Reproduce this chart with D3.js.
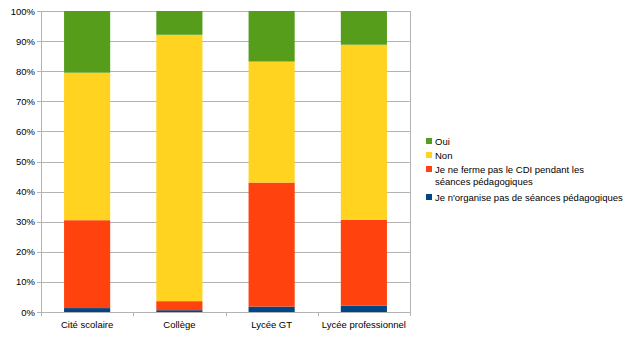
<!DOCTYPE html>
<html>
<head>
<meta charset="utf-8">
<script src="https://cdn.jsdelivr.net/npm/d3@7"></script>
<style>
  body { margin: 0; background: #fff; }
  text { font-family: "Liberation Sans", Arial, sans-serif; }
</style>
</head>
<body>
<svg id="chart" width="630" height="338"></svg>
<script>
// Survey answers by type of school (shares in %)
const categories = ["Cité scolaire", "Collège", "Lycée GT", "Lycée professionnel"];
const seriesNames = [
  "Je n'organise pas de séances pédagogiques",
  "Je ne ferme pas le CDI pendant les séances pédagogiques",
  "Non",
  "Oui"
];
const noSessions = [1.3, 0.6, 1.8, 2.1];
const keepOpen   = [29.2, 3.0, 41.2, 28.5];
const non        = [49.0, 88.5, 40.2, 58.2];
const oui        = [20.5, 7.9, 16.8, 11.2];
const yTicks = [0, 10, 20, 30, 40, 50, 60, 70, 80, 90, 100];
const colors = ["#004586", "#ff420e", "#ffd320", "#579d1c"];

const keys = ["noSessions", "keepOpen", "non", "oui"];
const rows = categories.map((c, i) => ({
  cat: c, noSessions: noSessions[i], keepOpen: keepOpen[i], non: non[i], oui: oui[i]
}));

const svg = d3.select("#chart");
const m = { left: 41, top: 11, right: 410, bottom: 312 };
const fs = 9.5;

const x = d3.scaleBand().domain(categories).range([m.left, m.right]).paddingInner(0.5).paddingOuter(0.25);
const xb = d3.scaleBand().domain(categories).range([m.left, m.right]);
const y = d3.scaleLinear().domain([0, 100]).range([m.bottom, m.top]);

// horizontal gridlines
svg.append("g").selectAll("line").data(yTicks).join("line")
  .attr("x1", m.left - 4).attr("x2", m.right)
  .attr("y1", d => Math.round(y(d)) + 0.5).attr("y2", d => Math.round(y(d)) + 0.5)
  .attr("stroke", "#b3b3b3").attr("stroke-width", 1);

// right border
svg.append("line")
  .attr("x1", m.right + 0.5).attr("x2", m.right + 0.5)
  .attr("y1", m.top).attr("y2", m.bottom + 4)
  .attr("stroke", "#b3b3b3");

// stacked bars
const stack = d3.stack().keys(keys)(rows);
svg.append("g").selectAll("g").data(stack).join("g")
  .attr("fill", (d, i) => colors[i])
  .selectAll("rect").data(d => d).join("rect")
  .attr("x", d => x(d.data.cat))
  .attr("width", x.bandwidth())
  .attr("y", d => y(d[1]))
  .attr("height", d => y(d[0]) - y(d[1]));

// y axis
svg.append("line")
  .attr("x1", m.left + 0.5).attr("x2", m.left + 0.5)
  .attr("y1", m.top).attr("y2", m.bottom + 4)
  .attr("stroke", "#b3b3b3");
svg.append("g").selectAll("text").data(yTicks).join("text")
  .attr("x", m.left - 6).attr("y", d => y(d) + 3.5)
  .attr("text-anchor", "end").attr("font-size", fs).attr("fill", "#000")
  .text(d => d + "%");

// x axis boundary ticks and labels
const bounds = categories.map(c => xb(c)).concat([m.right]);
svg.append("g").selectAll("line").data(bounds.slice(1, -1)).join("line")
  .attr("x1", d => Math.round(d) + 0.5).attr("x2", d => Math.round(d) + 0.5)
  .attr("y1", m.bottom).attr("y2", m.bottom + 4)
  .attr("stroke", "#b3b3b3");
svg.append("g").selectAll("text").data(categories).join("text")
  .attr("x", d => xb(d) + xb.bandwidth() / 2).attr("y", 328)
  .attr("text-anchor", "middle").attr("font-size", fs).attr("fill", "#000")
  .text(d => d);

// legend (top entry is the top of the stack)
const legend = [
  { i: 3, lines: ["Oui"], y: 141 },
  { i: 2, lines: ["Non"], y: 155 },
  { i: 1, lines: ["Je ne ferme pas le CDI pendant les", "séances pédagogiques"], y: 169 },
  { i: 0, lines: ["Je n'organise pas de séances pédagogiques"], y: 197 }
];
const lg = svg.append("g");
legend.forEach(e => {
  lg.append("rect").attr("x", 426).attr("y", e.y - 3).attr("width", 6).attr("height", 6)
    .attr("fill", colors[e.i]);
  e.lines.forEach((t, k) => {
    lg.append("text").attr("x", 435).attr("y", e.y + 3.5 + k * 12)
      .attr("font-size", fs).attr("fill", "#000").text(t);
  });
});
</script>
</body>
</html>
